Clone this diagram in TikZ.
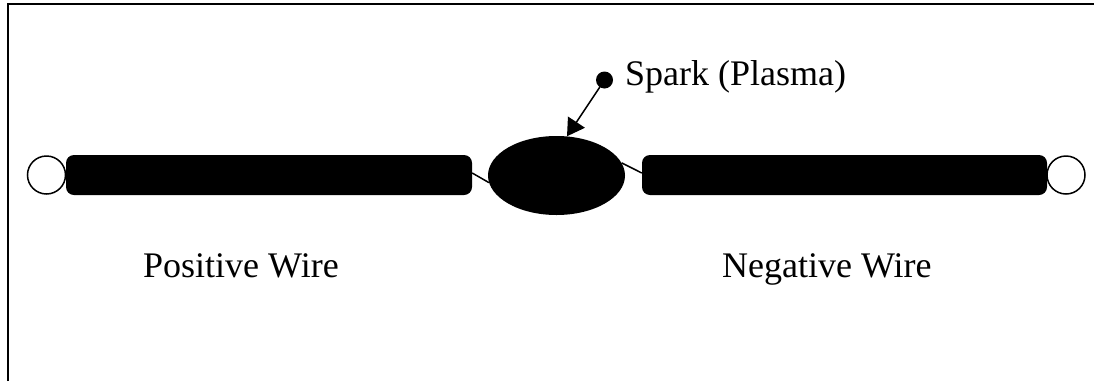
\documentclass[tikz,border=0pt]{standalone}
\usepackage{fontspec}
\setmainfont{Liberation Serif}
\usetikzlibrary{shapes.geometric,arrows.meta,calc}
\begin{document}
\begin{tikzpicture}[x=1pt,y=-1pt,
  wire/.style={rectangle, fill=black, rounded corners=8pt, inner sep=0pt,
    minimum height=40pt},
  terminal/.style={circle, draw=black, fill=white, line width=1.5pt,
    inner sep=0pt, minimum size=38pt},
  lead/.style={line width=1.5pt},
  label/.style={inner sep=0pt, anchor=base west, font=\fontsize{36}{40}\selectfont}]
  \useasboundingbox (0,0) rectangle (1094,381);

  % outer frame
  \draw[line width=2pt] (8,381) -- (8,4) -- (1094,4);

  % the two wires
  \node[wire, minimum width=406pt] (lbar) at (269,175) {};
  \node[wire, minimum width=405pt] (rbar) at (844.5,175) {};

  % terminals at the wire ends
  \node[terminal] (lterm) at (46.5,175) {};
  \node[terminal] (rterm) at (1066,175) {};

  % spark between the wires
  \node[ellipse, fill=black, inner sep=0pt, minimum width=137pt,
    minimum height=79pt] (spark) at (556.5,175.5) {};

  % short leads from the wires into the spark
  \coordinate (lend) at ($(lbar.east)+(0,-2)$);
  \coordinate (rend) at ($(rbar.west)+(0,-2)$);
  \draw[lead] (lend) -- (spark.186);
  \draw[lead] (rend) -- (spark.11);

  % callout
  \node[circle, fill=black, inner sep=0pt, minimum size=17pt] (dot) at (604.5,80) {};
  \draw[line width=1.5pt, -{Triangle[length=17pt,width=20pt]}] (dot.center) -- (spark.75);

  \node[label] (sparklbl) at (625,85) {Spark (Plasma)};
  \node[label] (poslbl) at (143,277) {Positive Wire};
  \node[label] (neglbl) at (722,277) {Negative Wire};
\end{tikzpicture}
\end{document}
